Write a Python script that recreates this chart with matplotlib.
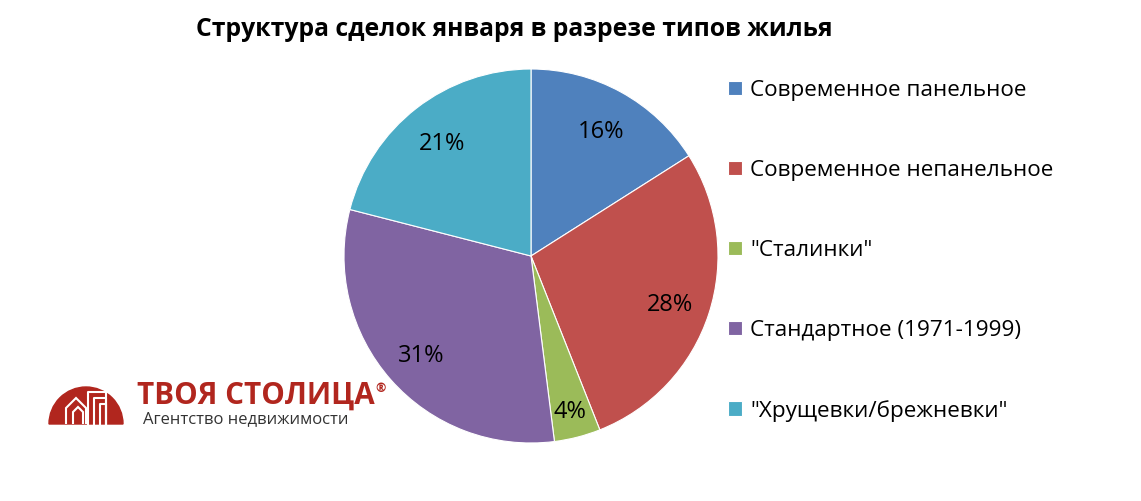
import matplotlib.pyplot as plt
from matplotlib.patches import Wedge, Polygon

plt.rcParams['font.family'] = ['Open Sans', 'DejaVu Sans']

# Data
categories = ['Современное панельное', 'Современное непанельное', '"Сталинки"',
              'Стандартное (1971-1999)', '"Хрущевки/брежневки"']
shares = [16, 28, 4, 31, 21]
colors = ['#4F81BD', '#C0504D', '#9BBB59', '#8064A2', '#4BACC6']
title = 'Структура сделок января в разрезе типов жилья'

W, H = 1141, 501
fig = plt.figure(figsize=(W / 100, H / 100), dpi=100)

# Pie
ax = fig.add_axes([344 / W, 1 - 443 / H, 374 / W, 374 / H])
wedges, texts, autotexts = ax.pie(
    shares, colors=colors, startangle=90, counterclock=False,
    autopct='%1.0f%%', pctdistance=0.78,
    wedgeprops=dict(edgecolor='white', linewidth=0.8),
    textprops=dict(fontsize=17, color='black'))
# the small slice label sits a bit further out
x, y = autotexts[2].get_position()
autotexts[2].set_position((x * 0.84 / 0.78, y * 0.84 / 0.78))
# labels sit slightly lower in the original
for t in autotexts:
    x, y = t.get_position()
    t.set_position((x, y - 0.02))
ax.set_xlim(-1, 1)
ax.set_ylim(-1, 1)
ax.set_aspect('equal')

fig.text(514 / W, 1 - 30 / H, title, ha='center', va='center',
         fontsize=17.8, fontweight='bold',
         family=['Liberation Sans Narrow', 'Open Sans', 'DejaVu Sans'])

# Legend
leg = fig.legend(wedges, categories, loc='upper left',
                 bbox_to_anchor=(719 / W, 1 - 71 / H), frameon=False,
                 fontsize=16.2, labelspacing=2.62, handlelength=0.62,
                 handleheight=0.62, handletextpad=0.36, borderaxespad=0)

# Logo
lax = fig.add_axes([0, 0, 1, 1], zorder=-1)
lax.set_xlim(0, W)
lax.set_ylim(H, 0)
lax.axis('off')
lax.add_patch(Wedge((86, 424), 37, 180, 360, color='#B1261E'))
# simple building outlines
for pts in [[(66, 424), (66, 408), (76, 398), (86, 408), (86, 424)],
            [(73, 424), (73, 412), (78, 407), (83, 412), (83, 424)]]:
    lax.add_patch(Polygon(pts, closed=False, fill=False, edgecolor='white', lw=1.5))
for x0, y0 in [(88, 392), (94, 398), (100, 404)]:
    lax.plot([x0, x0, x0 + 18 - (x0 - 88), x0 + 18 - (x0 - 88)],
             [424, y0, y0, 424], color='white', lw=1.5)
lax.text(137, 396, 'ТВОЯ СТОЛИЦА', color='#B1261E', fontsize=21.3,
         fontweight='bold', va='center', ha='left', family=['Open Sans'])
lax.text(375, 389, '®', color='#B1261E', fontsize=9, fontweight='bold',
         va='center', ha='left')
lax.text(143, 419, 'Агентство недвижимости', color='#333333', fontsize=12,
         va='center', ha='left', family=['Open Sans'])

fig.savefig('out.png', dpi=100)
